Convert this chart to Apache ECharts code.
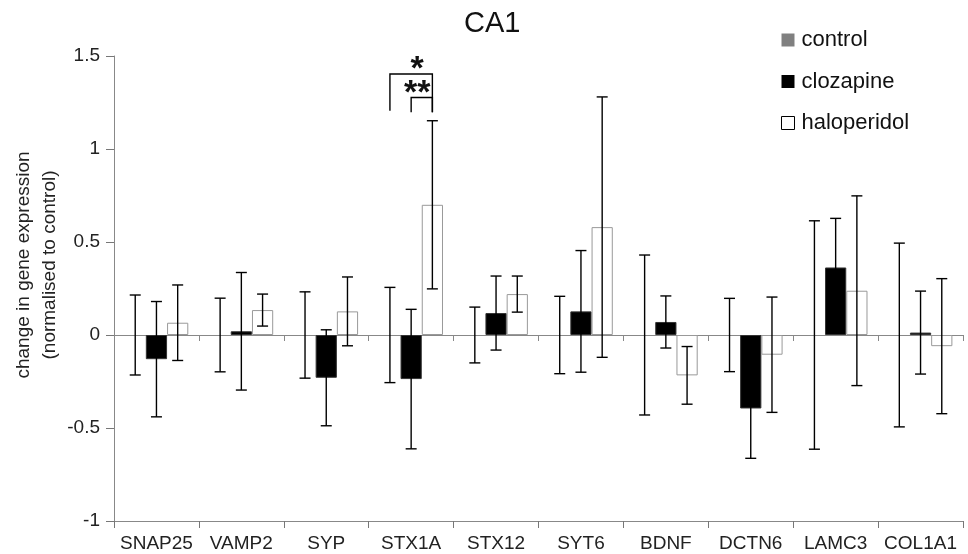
<!DOCTYPE html>
<html>
<head>
<meta charset="utf-8">
<script src="https://cdn.jsdelivr.net/npm/echarts@6/dist/echarts.min.js"></script>
<style>html,body{margin:0;padding:0;background:#fff;}#chart{width:968px;height:554px;}</style>
</head>
<body>
<div id="chart"></div>
<script>
// ---- data ----
var categories = ['SNAP25','VAMP2','SYP','STX1A','STX12','SYT6','BDNF','DCTN6','LAMC3','COL1A1'];
var seriesNames = ['control','clozapine','haloperidol'];
var controlMean = [0,0,0,0,0,0,0,0,0,0];
var controlErr = [0.215,0.198,0.232,0.256,0.150,0.208,0.430,0.197,0.614,0.494];
var clozapineMean = [-0.130,0.020,-0.230,-0.237,0.118,0.127,0.070,-0.395,0.363,0.013];
var clozapineErr = [0.310,0.316,0.258,0.375,0.199,0.327,0.140,0.268,0.264,0.223];
var haloperidolMean = [0.066,0.134,0.127,0.700,0.220,0.580,-0.217,-0.106,0.238,-0.060];
var haloperidolErr = [0.203,0.086,0.185,0.452,0.097,0.700,0.155,0.310,0.510,0.363];
var yTicks = [-1,-0.5,0,0.5,1,1.5];
// significance brackets: [categoryIndex, fromSeries, toSeries, topValue, leftEndValue, rightEndValue]
var sigBrackets = [[3,0,2,1.403,1.206,1.197],[3,1,2,1.277,1.197,1.197]];
var sigLabels = ['*','**'];

// ---- build ----
var means = [controlMean, clozapineMean, haloperidolMean];
var errs = [controlErr, clozapineErr, haloperidolErr];
var errData = [];
for (var s = 0; s < 3; s++) {
  for (var i = 0; i < categories.length; i++) {
    errData.push([i, means[s][i], errs[s][i], s]);
  }
}
var sigData = sigBrackets.map(function(b, i){ return b.concat([i]); });
var FONT = 'Liberation Sans, Arial, sans-serif';
var GROUP = 0.75;

function barOffset(api, k) {
  var bw = api.size([1, 0])[0] * GROUP / 3;
  return (k - 1) * bw;
}

var chart = echarts.init(document.getElementById('chart'), null, {renderer: 'canvas'});
chart.setOption({
  animation: false,
  backgroundColor: '#fff',
  textStyle: {fontFamily: FONT},
  title: {
    text: 'CA1', left: 459, top: 4,
    textStyle: {fontSize: 29, fontWeight: 'normal', color: '#111', fontFamily: FONT}
  },
  legend: {
    orient: 'vertical', left: 781, top: 29, padding: 0,
    itemWidth: 13, itemHeight: 13, itemGap: 19.5,
    icon: 'rect',
    textStyle: {fontSize: 22, color: '#111', fontFamily: FONT, padding: [0,0,0,2]},
    data: [
      {name: 'control', itemStyle: {color: '#808080', borderWidth: 0}},
      {name: 'clozapine', itemStyle: {color: '#000', borderWidth: 0}},
      {name: 'haloperidol', itemStyle: {color: '#fff', borderColor: '#000', borderWidth: 1}}
    ]
  },
  grid: {left: 114, right: 5, top: 56, bottom: 33, containLabel: false},
  xAxis: [
    {
      type: 'category', data: categories, position: 'bottom',
      axisLine: {onZero: false, lineStyle: {color: '#888', width: 1}},
      axisTick: {show: true, length: 7, lineStyle: {color: '#777'}},
      axisLabel: {fontSize: 19, color: '#222', margin: 13, fontFamily: FONT, interval: 0}
    },
    {
      type: 'category', data: categories, position: 'top',
      axisLine: {onZero: true, lineStyle: {color: '#888', width: 1}},
      axisTick: {show: true, inside: true, length: 6, lineStyle: {color: '#888'}},
      axisLabel: {show: false}
    }
  ],
  yAxis: {
    type: 'value', min: yTicks[0], max: yTicks[yTicks.length - 1], interval: 0.5,
    axisLine: {show: true, onZero: false, lineStyle: {color: '#888', width: 1}},
    axisTick: {show: true, length: 8, lineStyle: {color: '#777'}},
    axisLabel: {fontSize: 19, color: '#222', margin: 14, fontFamily: FONT},
    splitLine: {show: false}
  },
  graphic: [{
    type: 'text', x: 37, y: 265, rotation: Math.PI / 2,
    style: {
      text: 'change in gene expression\n(normalised to control)',
      fontSize: 19, fontFamily: FONT, fill: '#222',
      textAlign: 'center', textVerticalAlign: 'middle', lineHeight: 26
    }
  }],
  series: [
    {name: 'control', type: 'bar', data: controlMean, barGap: '0%', barCategoryGap: '25%',
     itemStyle: {color: '#808080'}},
    {name: 'clozapine', type: 'bar', data: clozapineMean, barGap: '0%', barCategoryGap: '25%',
     itemStyle: {color: '#000', borderColor: '#333', borderWidth: 1}},
    {name: 'haloperidol', type: 'bar', data: haloperidolMean, barGap: '0%', barCategoryGap: '25%',
     itemStyle: {color: '#fff', borderColor: '#999', borderWidth: 1}},
    {
      name: 'errors', type: 'custom', data: errData, z: 5,
      renderItem: function(params, api) {
        var cat = api.value(0), m = api.value(1), e = api.value(2), k = api.value(3);
        var x = api.coord([cat, m])[0] + barOffset(api, k);
        var yt = api.coord([cat, m + e])[1];
        var yb = api.coord([cat, m - e])[1];
        var cap = 5.5, st = {stroke: '#000', lineWidth: 1.4};
        return {type: 'group', children: [
          {type: 'line', shape: {x1: x, y1: yt, x2: x, y2: yb}, style: st},
          {type: 'line', shape: {x1: x - cap, y1: yt, x2: x + cap, y2: yt}, style: st},
          {type: 'line', shape: {x1: x - cap, y1: yb, x2: x + cap, y2: yb}, style: st}
        ]};
      }
    },
    {
      name: 'significance', type: 'custom', data: sigData, z: 5,
      renderItem: function(params, api) {
        var cat = api.value(0), a = api.value(1), b = api.value(2);
        var top = api.value(3), le = api.value(4), re = api.value(5), li = api.value(6);
        var cx = api.coord([cat, top])[0];
        var x1 = cx + barOffset(api, a), x2 = cx + barOffset(api, b);
        var yt = api.coord([cat, top])[1];
        var y1 = api.coord([cat, le])[1], y2 = api.coord([cat, re])[1];
        var st = {stroke: '#000', lineWidth: 1.4, fill: null};
        return {type: 'group', children: [
          {type: 'polyline', shape: {points: [[x1, y1], [x1, yt], [x2, yt], [x2, y2]]}, style: st},
          {type: 'text', x: cx + 6, y: yt - 4, style: {
            text: sigLabels[li], fontSize: 34, fontWeight: 'bold', fontFamily: FONT, fill: '#111',
            textAlign: 'center', textVerticalAlign: 'middle'}}
        ]};
      }
    }
  ]
});
</script>
</body>
</html>
